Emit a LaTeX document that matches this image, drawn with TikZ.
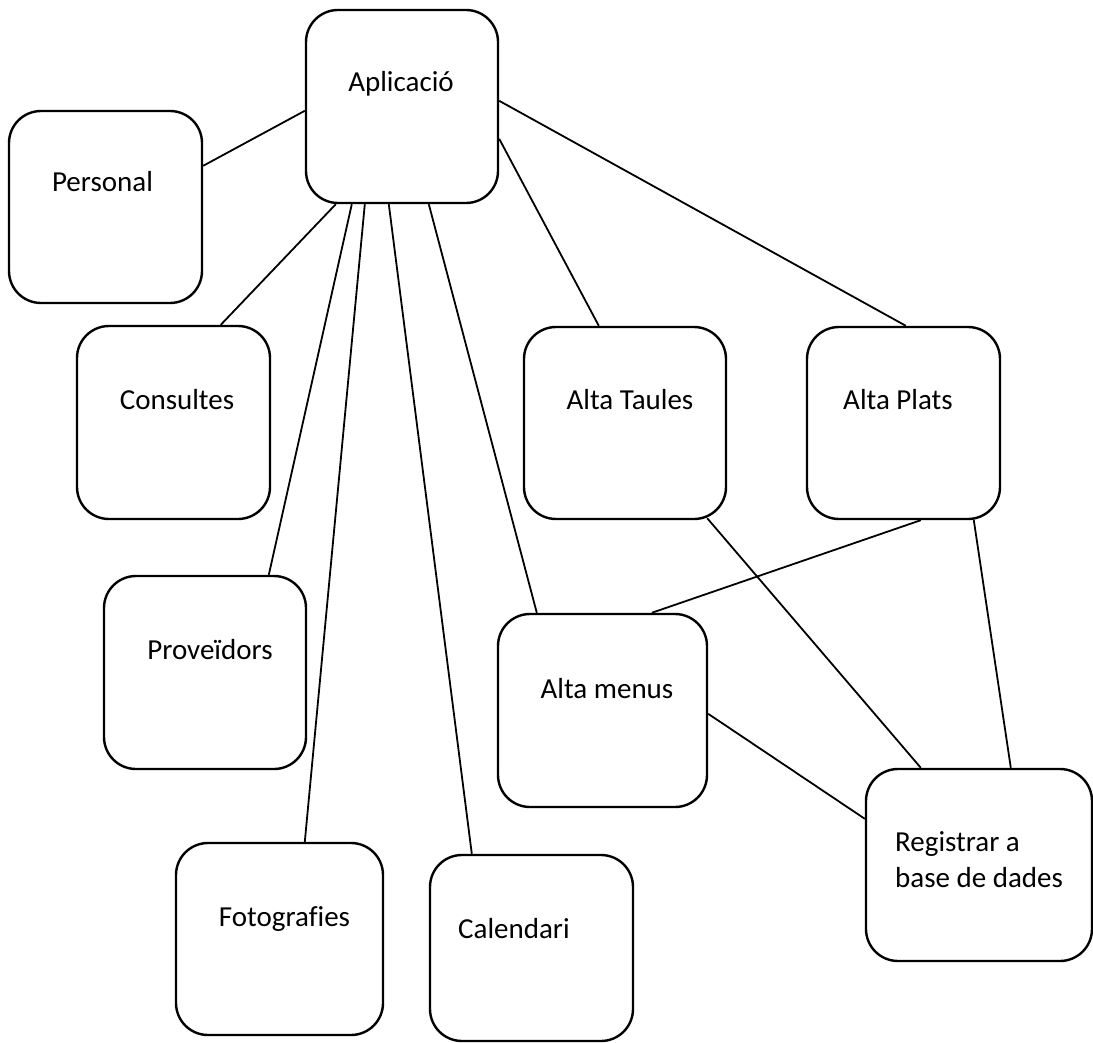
\documentclass[tikz,border=0pt]{standalone}
\usepackage{fontspec}
\setmainfont{Carlito}[Ligatures=NoCommon]
\usetikzlibrary{calc}

\begin{document}
\begin{tikzpicture}[x=1pt, y=-1pt,
    box/.style={draw, line width=2.4pt, rounded corners=32pt, inner sep=0pt},
    txt/.style={anchor=base, inner sep=0pt, font=\fontsize{29}{36}\selectfont},
    link/.style={draw, line width=1.8pt}]
        \useasboundingbox (0,0) rectangle (1093,1043);
        % boxes
        \node[box, minimum width=192pt, minimum height=193pt] (apl) at (402,106.5) {};
        \node[box, minimum width=193pt, minimum height=192pt] (pers) at (105.5,207) {};
        \node[box, minimum width=193pt, minimum height=193pt] (cons) at (173.5,422.5) {};
        \node[box, minimum width=202pt, minimum height=193pt] (prov) at (205,672.5) {};
        \node[box, minimum width=207pt, minimum height=192pt] (foto) at (279.5,939) {};
        \node[box, minimum width=203pt, minimum height=186pt] (cal) at (531.5,948) {};
        \node[box, minimum width=202pt, minimum height=192pt] (taul) at (625,423) {};
        \node[box, minimum width=193pt, minimum height=192pt] (plat) at (903.5,423) {};
        \node[box, minimum width=209pt, minimum height=193pt] (menu) at (602.5,710.5) {};
        \node[box, minimum width=226pt, minimum height=192pt] (reg) at (979,865) {};
        % labels
        \node[txt] (apl-t) at (401,92) {Aplicació};
        \node[txt] (pers-t) at (102.5,192) {Personal};
        \node[txt] (cons-t) at (177,409) {Consultes};
        \node[txt] (prov-t) at (210,659) {Proveïdors};
        \node[txt] (foto-t) at (284.5,926) {Fotografies};
        \node[txt] (cal-t) at (514,938) {Calendari};
        \node[txt] (taul-t) at (630,409) {Alta Taules};
        \node[txt] (plat-t) at (898,409) {Alta Plats};
        \node[txt] (menu-t) at (607,698) {Alta menus};
        \node[txt, anchor=base west, align=left] (reg-t) at (895,887) {Registrar a\\base de dades};
        % links from the application
        \path[link] ($(apl.north west)+(0,102)$) -- ($(pers.north east)+(0,56)$);
        \path[link] ($(apl.south west)+(31,0)$) -- ($(cons.north west)+(145,0)$);
        \path[link] ($(apl.south west)+(47,0)$) -- ($(prov.north west)+(166,0)$);
        \path[link] ($(apl.south west)+(60,0)$) -- ($(foto.north west)+(130,0)$);
        \path[link] ($(apl.south west)+(84,0)$) -- ($(cal.north west)+(43,0)$);
        \path[link] ($(apl.south west)+(124,0)$) -- ($(menu.north west)+(40,0)$);
        \path[link] ($(apl.north east)+(0,130)$) -- ($(taul.north west)+(76,0)$);
        \path[link] ($(apl.north east)+(0,92)$) -- ($(plat.north west)+(100,0)$);
        % links to the database
        \path[link] ($(taul.south east)+(-20,-2)$) -- ($(reg.north west)+(56,0)$);
        \path[link] ($(plat.south west)+(115,0)$) -- ($(menu.north west)+(155,0)$);
        \path[link] ($(plat.south west)+(168,0)$) -- ($(reg.north west)+(146,0)$);
        \path[link] ($(menu.north east)+(0,101)$) -- ($(reg.north west)+(0,51)$);
\end{tikzpicture}
\end{document}
